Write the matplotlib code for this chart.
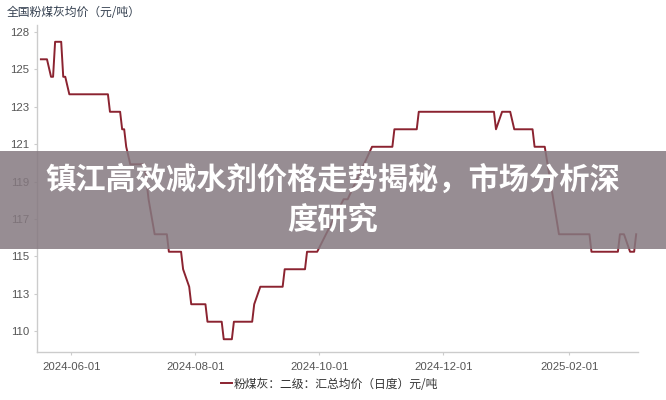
import numpy as np
import pandas as pd
import matplotlib
matplotlib.use("Agg")
from matplotlib import pyplot as plt
from matplotlib.patches import Rectangle
from matplotlib.ticker import FixedLocator, FormatStrFormatter

plt.rcParams['font.family'] = ['Liberation Sans', 'Noto Sans CJK SC', 'DejaVu Sans']

# vertices of the price line (yuan/ton)
dates = ['2024-05-17', '2024-05-20', '2024-05-22', '2024-05-23', '2024-05-24',
         '2024-05-27', '2024-05-28', '2024-05-29', '2024-05-31', '2024-06-19',
         '2024-06-20', '2024-06-25', '2024-06-26', '2024-06-27', '2024-06-28',
         '2024-06-30', '2024-07-07', '2024-07-09', '2024-07-12', '2024-07-18',
         '2024-07-19', '2024-07-25', '2024-07-26', '2024-07-29', '2024-07-30',
         '2024-08-06', '2024-08-07', '2024-08-14', '2024-08-15', '2024-08-19',
         '2024-08-20', '2024-08-29', '2024-08-30', '2024-09-02', '2024-09-13',
         '2024-09-14', '2024-09-24', '2024-09-25', '2024-09-30', '2024-10-13',
         '2024-10-15', '2024-10-27', '2024-11-06', '2024-11-07', '2024-11-18',
         '2024-11-19', '2024-12-26', '2024-12-27', '2024-12-30', '2025-01-03',
         '2025-01-05', '2025-01-14', '2025-01-15', '2025-01-20', '2025-01-27',
         '2025-02-11', '2025-02-12', '2025-02-25', '2025-02-26', '2025-02-28',
         '2025-03-03', '2025-03-05', '2025-03-06']
prices = [126, 126, 125, 125, 127,
          127, 125, 125, 124, 124,
          123, 123, 122, 122, 121,
          120, 120, 118, 116, 116,
          115, 115, 114, 113, 112,
          112, 111, 111, 110, 110,
          111, 111, 112, 113, 113,
          114, 114, 115, 115, 118,
          118, 121, 121, 122, 122,
          123, 123, 122, 123, 123,
          122, 122, 121, 121, 116,
          116, 115, 115, 116, 116,
          115, 115, 116]

xtick_dates = ['2024-06-01', '2024-08-01', '2024-10-01', '2024-12-01', '2025-02-01']
ytick_vals = [110.47 + 2.136 * k for k in range(9)]  # labels come out 110,113,...,128

chart_title = '全国粉煤灰均价（元/吨）'
series_name = '粉煤灰：二级：汇总均价（日度）元/吨'
banner_text = '镇江高效减水剂价格走势揭秘，市场分析深\n度研究'

x = pd.to_datetime(dates)

fig = plt.figure(figsize=(6.66, 4.0), dpi=100)
ax = fig.add_axes([0.0563, 0.12, 0.9017, 0.8175])

line, = ax.plot(x, prices, color='#8b2330', lw=1.4, label=series_name)

ax.set_xlim(x[0] - pd.Timedelta(hours=40), x[-1] + pd.Timedelta(hours=22))
ax.set_ylim(109.27, 127.96)

ax.set_xticks(pd.to_datetime(xtick_dates))
ax.set_xticklabels(xtick_dates)
ax.yaxis.set_major_locator(FixedLocator(ytick_vals))
ax.yaxis.set_major_formatter(FormatStrFormatter('%.0f'))

for side in ['top', 'right']:
    ax.spines[side].set_visible(False)
for side in ['left', 'bottom']:
    ax.spines[side].set_color('#cccccc')
    ax.spines[side].set_linewidth(1.0)
ax.tick_params(axis='both', colors='#cccccc', length=2, labelsize=8.2, labelcolor='#555555')
ax.tick_params(axis='y', pad=4)
ax.tick_params(axis='x', pad=5)

fig.text(0.0105, 0.97, chart_title, fontsize=8.5, color='#333f4f', va='center', ha='left',
         family=['Noto Sans CJK SC', 'DejaVu Sans'])

leg = fig.legend(handles=[line], loc='center', bbox_to_anchor=(0.495, 0.04), frameon=False,
                 handlelength=0.9, handletextpad=0.15,
                 prop={'family': ['Noto Sans CJK SC', 'DejaVu Sans'], 'size': 8.5})
for t in leg.get_texts():
    t.set_color('#333333')

# banner overlay
fig.patches.append(Rectangle((0, 1 - 249 / 400), 1, 98 / 400, transform=fig.transFigure,
                             facecolor='#857980', alpha=0.85, edgecolor='none', zorder=5))
fig.text(0.5, 1 - 200 / 400, banner_text, ha='center', va='center', color='white',
         fontsize=21.8, fontweight='bold', linespacing=1.3, zorder=6,
         family=['Noto Sans CJK SC', 'DejaVu Sans'])

fig.savefig('out.png', dpi=100)
